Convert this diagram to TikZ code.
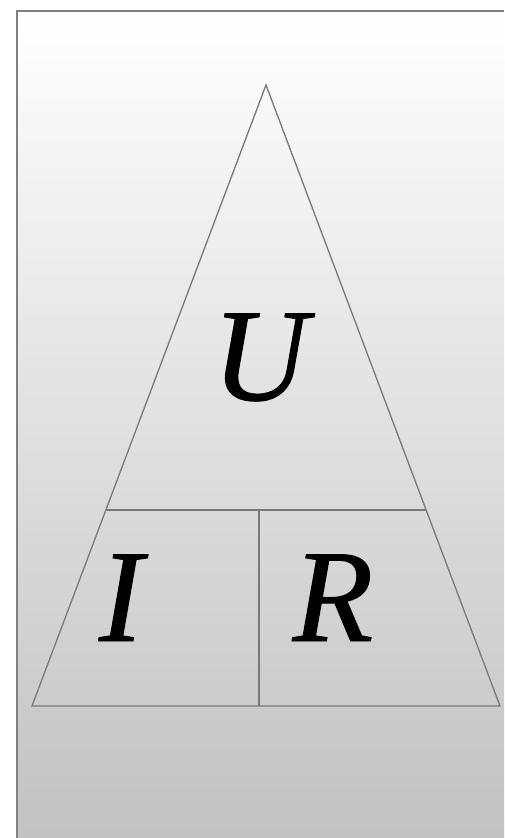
\documentclass[tikz,border=0pt]{standalone}
\usepackage{fontspec}
\setmainfont{Liberation Serif}
\newfontfamily\lblfont[FakeBold=0.7]{Liberation Serif}
\begin{document}
\begin{tikzpicture}[x=1pt,y=-1pt,
  edge/.style={draw=gray!95!black,line width=1.3pt},
  lbl/.style={font=\lblfont\fontsize{132}{132}\selectfont\itshape,inner sep=0pt,anchor=base}]
\useasboundingbox (0,0) rectangle (504,838);
\shade[top color=white,bottom color=black!24] (17,11) rectangle (504,838);
\draw[gray,line width=2.2pt] (17,838) -- (17,11) -- (504,11);
\coordinate (A) at (266,85);
\coordinate (B) at (32,706);
\coordinate (C) at (500,706);
\coordinate (L) at (106,510);
\coordinate (Rr) at (426,510);
\coordinate (M) at (259,510);
\coordinate (Mb) at (259,706);
\draw[edge,line join=miter] (A) -- (B) -- (C) -- cycle;
\draw[edge] (L) -- (Rr);
\draw[edge] (M) -- (Mb);
\node[lbl] (u) at (260,400) {U};
\node[lbl] (i) at (121,641) {I};
\node[lbl] (r) at (333,641) {R};
\end{tikzpicture}
\end{document}
